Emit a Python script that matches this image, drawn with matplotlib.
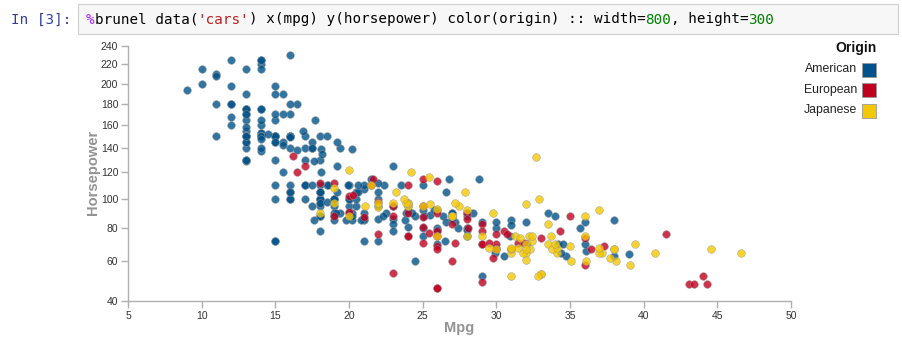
import numpy as np
import matplotlib.pyplot as plt
from matplotlib.patches import Rectangle

# cars data: (mpg, horsepower) by origin
american_mpg = [18, 15, 18, 16, 17, 15, 14, 14, 14, 15, 15, 14, 15, 14, 22, 18, 21, 21, 10, 10,
                11, 9, 28, 19, 16, 17, 19, 18, 14, 14, 14, 14, 12, 13, 13, 18, 22, 19, 18, 23,
                26, 25, 20, 21, 13, 14, 15, 14, 17, 11, 13, 12, 13, 15, 13, 13, 14, 22, 28, 13,
                14, 13, 14, 15, 12, 13, 13, 14, 13, 12, 13, 18, 16, 18, 18, 23, 11, 12, 13, 12,
                18, 21, 19, 21, 15, 16, 15, 11, 20, 19, 15, 26, 25, 16, 16, 18, 16, 13, 14, 14,
                14, 28, 19, 18, 15, 15, 16, 15, 16, 14, 17, 16, 15, 18, 21, 20, 13, 23, 20, 23,
                18, 19, 25, 26, 17.5, 16, 15.5, 14.5, 22, 22, 24, 22.5, 29, 24.5, 20, 18, 18.5, 17.5,
                26.5, 13, 16.5, 13, 13, 13, 30, 17.5, 17, 15.5, 15, 17.5, 20.5, 19, 18.5, 16, 15.5,
                15.5, 16, 24.5, 25.5, 30.5, 36.1, 19.9, 19.4, 20.2, 19.2, 20.5, 20.2, 25.1, 20.5,
                19.4, 20.6, 20.8, 18.6, 18.1, 19.2, 17.7, 18.1, 17.5, 30, 30.9, 23.8, 21.5, 19.8,
                22.3, 20.2, 20.6, 17, 17.6, 16.5, 18.2, 16.9, 15.5, 19.2, 18.5, 35.7, 27.4, 23,
                23.9, 34.2, 34.5, 28.4, 28.8, 26.8, 33.5, 32.1, 28, 26.4, 24.3, 19.1, 27.2, 26.6,
                25.8, 23.5, 30, 39, 34.7, 34.4, 29.9, 22.4, 26.6, 20.2, 17.6, 28, 27, 34, 31, 29,
                27, 24, 38, 36, 25, 38, 26, 22, 36, 27, 27, 32, 28, 31]
american_hp = [130, 165, 150, 150, 140, 198, 220, 215, 225, 190, 170, 160, 150, 225, 95, 97, 85, 90, 215, 200,
               210, 193, 90, 100, 105, 100, 88, 100, 165, 175, 153, 150, 180, 170, 175, 110, 72, 100, 88, 86,
               70, 80, 90, 86, 165, 175, 150, 153, 150, 208, 155, 160, 190, 150, 130, 140, 150, 86, 80, 175,
               150, 145, 137, 150, 198, 150, 158, 150, 215, 225, 175, 105, 100, 100, 88, 95, 150, 167, 170, 180,
               100, 72, 85, 107, 145, 230, 150, 180, 95, 100, 100, 80, 75, 100, 110, 105, 140, 150, 150, 140,
               150, 75, 95, 105, 72, 72, 170, 145, 150, 148, 110, 105, 110, 95, 110, 110, 129, 83, 100, 78,
               97, 90, 92, 79, 140, 150, 120, 152, 100, 105, 81, 90, 52, 60, 100, 78, 110, 95,
               72, 150, 180, 145, 130, 150, 80, 145, 110, 145, 130, 110, 105, 100, 98, 180, 170,
               190, 149, 88, 89, 63, 66, 110, 140, 139, 105, 95, 85, 88, 100,
               90, 105, 85, 110, 120, 145, 165, 139, 140, 68, 75, 85, 115, 85,
               88, 90, 110, 130, 129, 138, 135, 155, 142, 125, 150, 80, 80, 125,
               90, 70, 70, 90, 115, 115, 90, 70, 90, 88, 90, 90, 84, 84,
               92, 110, 84, 64, 63, 65, 65, 110, 105, 88, 85, 88, 88, 88, 85, 84,
               90, 92, 63, 70, 110, 85, 92, 112, 84, 90, 86, 84, 79, 82]

european_mpg = [26, 25, 24, 25, 26, 28, 30, 30, 27, 23, 18, 22, 21, 26, 26, 26, 29, 24, 20, 19,
                24, 29, 26, 26, 24, 26, 31, 25, 29, 23, 23, 22, 25, 28, 25, 27, 29, 29.5, 20, 19,
                16.5, 36, 29, 30.5, 21.5, 43.1, 20.3, 17, 21.6, 16.2, 31.5, 31.9, 25.4, 27.2, 37.3,
                41.5, 34.3, 44.3, 43.4, 36.4, 30, 29.8, 35, 33, 28.1, 30.7, 36, 44]
european_hp = [46, 87, 90, 95, 113, 90, 70, 76, 60, 54, 112, 76, 87, 69, 46, 90, 49, 75, 91, 112,
               110, 83, 67, 78, 75, 75, 67, 71, 70, 95, 88, 98, 115, 86, 81, 83, 70, 71, 102, 88,
               120, 58, 78, 78, 110, 48, 103, 125, 115, 133, 71, 71, 77, 71, 69,
               76, 78, 48, 48, 67, 67, 62, 88, 74, 80, 76, 74, 52]

japanese_mpg = [24, 27, 27, 25, 31, 35, 24, 19, 28, 23, 27, 20, 22, 18, 20, 31, 32, 31, 32, 24,
                26, 29, 24, 24, 33, 33, 32, 28, 19, 31.5, 25.5, 33.5, 26, 33.5, 30, 22, 21.5, 32.8,
                39.4, 36.1, 27.5, 27.2, 21.1, 23.2, 23.9, 29.5, 34.1, 31.8, 38.1, 37.2, 29.8, 31.3,
                37, 32.2, 46.6, 27.9, 40.8, 44.6, 33.8, 32.7, 23.7, 32.4, 39.1, 35.1, 32.3, 37, 37.7,
                34.1, 33.7, 32.4, 32.9, 31.6, 25.4, 24.2, 37, 31, 36, 36, 34, 38, 32, 38, 32]
japanese_hp = [95, 88, 88, 95, 65, 69, 95, 97, 92, 97, 88, 88, 94, 90, 122, 67, 65, 52, 61, 97,
               93, 75, 96, 97, 53, 53, 70, 75, 108, 68, 96, 70, 75, 83, 67, 97, 110, 52,
               70, 60, 95, 97, 95, 105, 97, 68, 65, 65, 60, 65, 90, 75,
               92, 75, 65, 105, 65, 67, 67, 132, 100, 72, 58, 60, 67, 65, 62,
               68, 75, 75, 100, 74, 116, 120, 68, 68, 88, 75, 70, 67, 67, 67, 96]

origins = ['American', 'European', 'Japanese']
colors = ['#00538A', '#C10020', '#F4C800']
x_ticks = [5, 10, 15, 20, 25, 30, 35, 40, 45, 50]
y_ticks = [40, 60, 80, 100, 120, 140, 160, 180, 200, 220, 240]

W, H = 903, 341
fig = plt.figure(figsize=(W / 100, H / 100), dpi=100)
plt.rcParams['font.family'] = ['Liberation Sans', 'DejaVu Sans']

def fx(px):
    return px / W

def fy(py):
    return 1 - py / H

# --- notebook cell header ---
fig.patches.append(Rectangle((fx(78), fy(34)), fx(898) - fx(78), fy(4) - fy(34),
                             transform=fig.transFigure, facecolor='#f7f7f7',
                             edgecolor='#cfcfcf', linewidth=0.8))
mono = dict(family='DejaVu Sans Mono', size=10.3, va='center')
fig.text(fx(71), fy(20), 'In [3]:', ha='right', color='#303F9F', **mono)
segments = [('%', '#AA22FF'), ('brunel data(', '#000000'), ("'cars'", '#BA2121'),
            (') x(mpg) y(horsepower) color(origin) :: width=', '#000000'),
            ('800', '#008000'), (', height=', '#000000'), ('300', '#008000')]
char_w = 8.6
pos = 0
for txt, col in segments:
    fig.text(fx(86 + pos * char_w), fy(19.5), txt, ha='left', color=col, **mono)
    pos += len(txt)

# --- scatter plot ---
ax = fig.add_axes([fx(128), fy(301), fx(791) - fx(128), fy(46) - fy(301)])
ax.set_yscale('function', functions=(lambda v: np.sqrt(np.clip(v, 0, None)), np.square))
series = [(american_mpg, american_hp), (european_mpg, european_hp), (japanese_mpg, japanese_hp)]
for (mx, hy), col in zip(series, colors):
    ax.scatter(mx, hy, s=31, color=col, alpha=0.8, edgecolors='#9a9a9a',
               linewidths=0.4, clip_on=False, zorder=3)

ax.set_xlim(5, 50)
ax.set_ylim(40, 240)
ax.set_xticks(x_ticks)
ax.set_yticks(y_ticks)
ax.set_xticklabels([str(v) for v in x_ticks])
ax.set_yticklabels([str(v) for v in y_ticks])
ax.minorticks_off()
for s in ['top', 'right']:
    ax.spines[s].set_visible(False)
for s in ['left', 'bottom']:
    ax.spines[s].set_color('#b0b0b0')
    ax.spines[s].set_linewidth(1.0)
ax.tick_params(length=5, width=1.0, color='#b0b0b0', labelsize=7.5, labelcolor='#333333', pad=2)

fig.text(fx(459), fy(328), 'Mpg', ha='center', va='center', fontsize=10.5,
         fontweight='bold', color='#939393')
fig.text(fx(93), fy(172), 'Horsepower', ha='center', va='center', rotation=90,
         fontsize=10.5, fontweight='bold', color='#939393')

# --- legend ---
fig.text(fx(877), fy(48), 'Origin', ha='right', va='center', fontsize=10,
         fontweight='bold', color='#111111')
for i, (name, col) in enumerate(zip(origins, colors)):
    top = 62.5 + i * 20.5
    fig.patches.append(Rectangle((fx(862), fy(top + 14)), fx(14), 14 / H,
                                 transform=fig.transFigure, facecolor=col,
                                 edgecolor='#999999', linewidth=0.6))
    fig.text(fx(857), fy(top + 7), name, ha='right', va='center', fontsize=8.8,
             color='#222222')

fig.savefig('out.png', dpi=100)
